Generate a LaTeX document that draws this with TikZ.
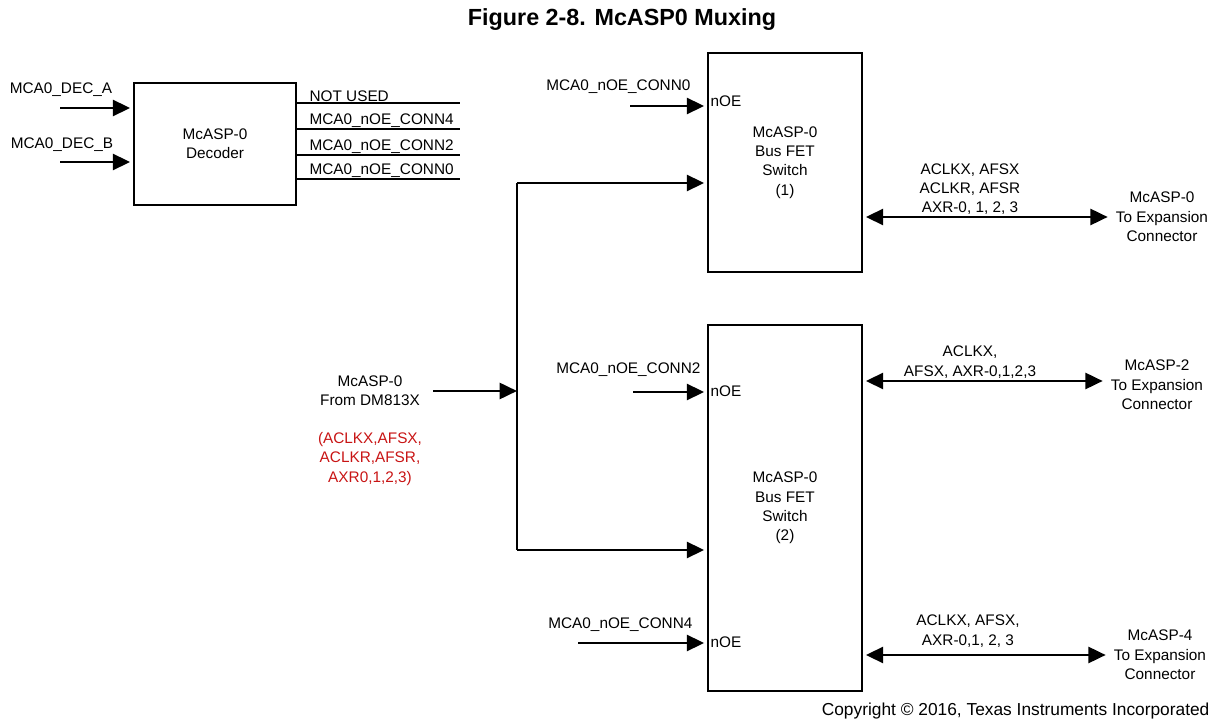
\documentclass[tikz,border=0pt]{standalone}
\usepackage{fontspec}
\setmainfont{Liberation Sans}
\usetikzlibrary{arrows.meta, positioning, calc}
\definecolor{tired}{RGB}{200,20,20}

\begin{document}
\begin{tikzpicture}[
    x=0.75pt, y=-0.75pt,
    box/.style={draw, line width=1.8pt, align=center, font=\fontsize{11.5}{14.5}\selectfont},
    lbl/.style={inner sep=1pt, align=center, font=\fontsize{11.5}{14.5}\selectfont},
    arr/.style={-{Triangle[length=13pt, width=12pt]}, line width=2pt},
    biarr/.style={{Triangle[length=13pt, width=12pt]}-{Triangle[length=13pt, width=12pt]}, line width=2pt},
    wire/.style={line width=1.3pt}
]
    \useasboundingbox (0,0) rectangle (1215,723);

    % Title
    \node[font=\fontsize{17.5}{20}\selectfont\bfseries] (title) at (622,20) {Figure 2-8. McASP0 Muxing};

    % Decoder
    \node[box, minimum width=121.5pt, minimum height=91.5pt] (dec) at (215,144) {McASP-0\\Decoder};
    \coordinate (deca) at (60,108);
    \coordinate (decb) at (60,162);
    \node[lbl] (decalbl) at (61,90) {MCA0\_DEC\_A};
    \node[lbl] (decblbl) at (62,145) {MCA0\_DEC\_B};
    \draw[arr, shorten >=2pt] (deca) -- (deca -| dec.west);
    \draw[arr, shorten >=2pt] (decb) -- (decb -| dec.west);
    \foreach \i/\yy/\txt in {1/103/NOT USED, 2/129/MCA0\_nOE\_CONN4, 3/155/MCA0\_nOE\_CONN2, 4/179/MCA0\_nOE\_CONN0} {
        \coordinate (out\i) at (460,\yy);
        \draw[wire] (dec.east |- out\i) -- (out\i);
        \node[lbl, anchor=south west] (outlbl\i) at (308,\yy) {\txt};
    }

    % Bus FET switches
    \node[box, minimum width=115.5pt, minimum height=164.25pt] (sw1) at (785,162.5) {McASP-0\\Bus FET\\Switch\\(1)};
    \node[box, minimum width=115.5pt, minimum height=274.5pt] (sw2) at (785,508) {McASP-0\\Bus FET\\Switch\\(2)};

    % nOE inputs
    \coordinate (n0) at (630,106);
    \coordinate (n2) at (633,392);
    \coordinate (n4) at (578,643);
    \node[lbl, anchor=east] (n0lbl) at (692,87) {MCA0\_nOE\_CONN0};
    \node[lbl, anchor=east] (n2lbl) at (702,370) {MCA0\_nOE\_CONN2};
    \node[lbl, anchor=east] (n4lbl) at (694,625) {MCA0\_nOE\_CONN4};
    \draw[arr, shorten >=2pt] (n0) -- (n0 -| sw1.west);
    \draw[arr, shorten >=2pt] (n2) -- (n2 -| sw2.west);
    \draw[arr, shorten >=2pt] (n4) -- (n4 -| sw2.west);
    \node[lbl, anchor=west] (noe0) at (709,101) {nOE};
    \node[lbl, anchor=west] (noe2) at (709,391) {nOE};
    \node[lbl, anchor=west] (noe4) at (709,642) {nOE};

    % Source bus
    \node[lbl] (src) at (370,391) {McASP-0\\From DM813X};
    \node[lbl, text=tired] (srcsig) at (370,459) {(ACLKX,AFSX,\\ACLKR,AFSR,\\AXR0,1,2,3)};
    \coordinate (bustop) at (517,183);
    \coordinate (busbot) at (517,550);
    \draw[line width=2pt] (bustop) -- (busbot);
    \draw[arr, shorten <=9pt] (src.east) -- (src.east -| bustop);
    \draw[arr, shorten >=2pt] (bustop) -- (bustop -| sw1.west);
    \draw[arr, shorten >=2pt] (busbot) -- (busbot -| sw2.west);

    % Expansion connectors
    \node[lbl] (exp0) at (1162,217) {McASP-0\\To Expansion\\Connector};
    \node[lbl] (exp2) at (1157,385) {McASP-2\\To Expansion\\Connector};
    \node[lbl] (exp4) at (1160,655) {McASP-4\\To Expansion\\Connector};
    \node[lbl] (sig0) at (970,189) {ACLKX, AFSX\\ACLKR, AFSR\\AXR-0, 1, 2, 3};
    \node[lbl] (sig2) at (970,362) {ACLKX,\\AFSX, AXR-0,1,2,3};
    \node[lbl] (sig4) at (968,631) {ACLKX, AFSX,\\AXR-0,1, 2, 3};
    \draw[biarr, shorten <=2pt, shorten >=5pt] (sw1.east |- exp0) -- (exp0.west);
    \draw[biarr, shorten <=2pt, shorten >=5pt] (sw2.east |- 0,381) -- (exp2.west |- 0,381);
    \draw[biarr, shorten <=2pt, shorten >=5pt] (sw2.east |- exp4) -- (exp4.west);

    % Copyright
    \node[anchor=east, inner sep=1pt, font=\fontsize{13}{15}\selectfont] (copy) at (1211,711) {Copyright \textcopyright{} 2016, Texas Instruments Incorporated};
\end{tikzpicture}
\end{document}
